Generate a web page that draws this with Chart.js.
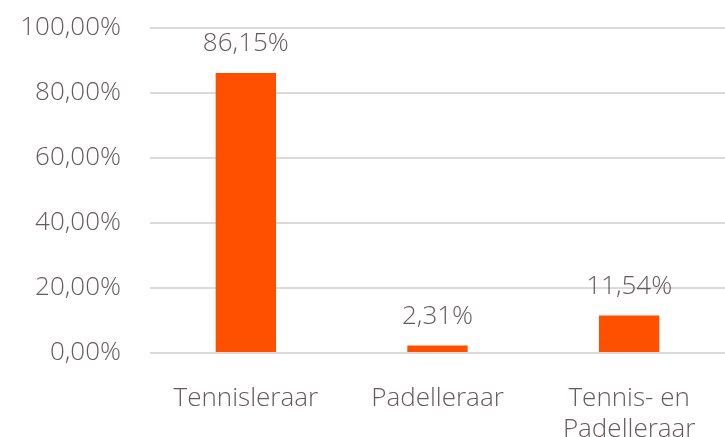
<!DOCTYPE html>
<html>
<head>
<meta charset="utf-8">
<script src="https://cdn.jsdelivr.net/npm/chart.js@4.4.1/dist/chart.umd.min.js"></script>
<style>
    html, body { margin: 0; padding: 0; background: #ffffff; }
    #wrap { width: 725px; height: 437px; }
</style>
</head>
<body>
<div id="wrap"><canvas id="barChart"></canvas></div>
<script>
// ---------------------------------------------
// DATA
// ---------------------------------------------
const categories = ["Tennisleraar", "Padelleraar", ["Tennis- en", "Padelleraar"]];
const shares = [86.15, 2.31, 11.54];
const yTicks = [0, 20, 40, 60, 80, 100];

const TEXT_COLOR = "#645b5d";
const BAR_COLOR = "#ff5000";
const FONT = "'Open Sans', 'Noto Sans', sans-serif";

const pct = (v, d) => v.toFixed(d).replace(".", ",") + "%";

// data labels above the bars
const valueLabels = {
    id: "valueLabels",
    afterDatasetsDraw(chart) {
        const ctx = chart.ctx;
        ctx.save();
        ctx.font = `300 26px ${FONT}`;
        ctx.fillStyle = TEXT_COLOR;
        ctx.textAlign = "center";
        ctx.textBaseline = "middle";
        chart.getDatasetMeta(0).data.forEach((bar, i) => {
            ctx.fillText(pct(shares[i], 2), bar.x, bar.y - 29);
        });
        ctx.restore();
    }
};

new Chart(document.getElementById("barChart"), {
    type: "bar",
    data: {
        labels: categories,
        datasets: [{
            data: shares,
            backgroundColor: BAR_COLOR,
            barPercentage: 0.63,
            categoryPercentage: 0.5
        }]
    },
    options: {
        responsive: true,
        maintainAspectRatio: false,
        animation: false,
        layout: { padding: 0 },
        plugins: {
            legend: { display: false },
            tooltip: { enabled: false }
        },
        scales: {
            x: {
                grid: { display: false },
                border: { display: false },
                afterFit(axis) { axis.height = 84; },
                ticks: {
                    color: TEXT_COLOR,
                    font: { family: FONT, size: 26, weight: 300, lineHeight: 1.2 },
                    padding: 22,
                    maxRotation: 0
                }
            },
            y: {
                min: 0,
                max: 100,
                afterFit(axis) {
                    axis.width = 150;
                    axis.paddingTop = 28;
                    axis.paddingBottom = 0;
                },
                afterBuildTicks(axis) { axis.ticks = yTicks.map(v => ({ value: v })); },
                grid: { color: "#ddd8d9", lineWidth: 2, drawTicks: false },
                border: { display: false },
                ticks: {
                    color: TEXT_COLOR,
                    font: { family: FONT, size: 26, weight: 300 },
                    padding: 29,
                    callback: v => pct(v, 2)
                }
            }
        }
    },
    plugins: [valueLabels]
});
</script>
</body>
</html>
